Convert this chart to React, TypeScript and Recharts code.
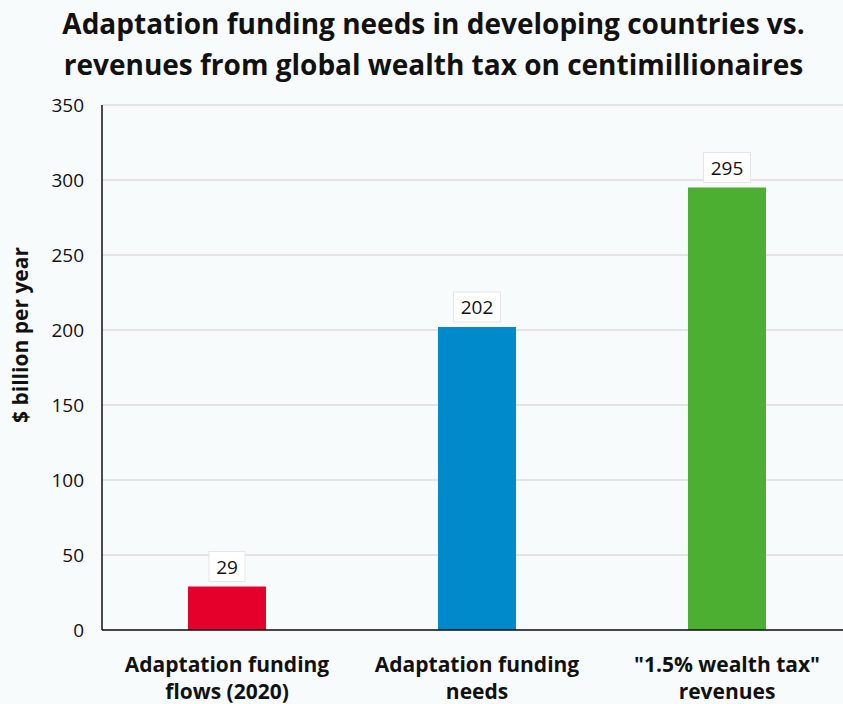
import React from "react";
import { Bar, BarChart, CartesianGrid, Cell, LabelList, XAxis, YAxis } from "recharts";

const categories = [
  ["Adaptation funding", "flows (2020)"],
  ["Adaptation funding", "needs"],
  ['"1.5% wealth tax"', "revenues"],
];
const values = [29, 202, 295];
const colors = ["#e4002b", "#0089cb", "#4caf31"];
const yTicks = [0, 50, 100, 150, 200, 250, 300, 350];

const data = categories.map((lines, i) => ({ key: `c${i}`, lines, value: values[i] }));

const FONT = "'Open Sans', 'Noto Sans', sans-serif";

function XTick({ x, y, payload }: any) {
  const lines: string[] = data[payload.index]?.lines ?? [];
  return (
    <text x={x} y={y + 34} textAnchor="middle" fontFamily={FONT} fontWeight={700} fontSize={21} fill="#111">
      {lines.map((l, i) => (
        <tspan key={i} x={x} dy={i === 0 ? 0 : 27}>
          {l}
        </tspan>
      ))}
    </text>
  );
}

function ValueLabel({ x, y, width, value }: any) {
  const s = String(value);
  const w = s.length * 11 + 14;
  const cx = x + width / 2;
  return (
    <g>
      <rect x={cx - w / 2} y={y - 35} width={w} height={30} fill="#fff" stroke="#e6e6e6" strokeWidth={1} />
      <text x={cx} y={y - 13} textAnchor="middle" fontFamily={FONT} fontSize={19} fill="#111">
        {s}
      </text>
    </g>
  );
}

function YLabel() {
  return (
    <text
      x={20}
      y={335}
      transform="rotate(-90 20 335)"
      textAnchor="middle"
      dominantBaseline="central"
      fontFamily={FONT}
      fontWeight={700}
      fontSize={21}
      fill="#111"
    >
      $ billion per year
    </text>
  );
}

export default function App() {
  return (
    <div
      style={{
        position: "fixed",
        left: 0,
        top: 0,
        width: 843,
        height: 704,
        overflow: "hidden",
        background: "#f8fbfb",
      }}
    >
      <div
        style={{
          position: "absolute",
          top: 3,
          left: 12,
          width: 843,
          textAlign: "center",
          fontFamily: FONT,
          fontWeight: 700,
          fontSize: 28,
          lineHeight: "41px",
          color: "#111",
          whiteSpace: "nowrap",
        }}
      >
        Adaptation funding needs in developing countries vs.
        <br />
        revenues from global wealth tax on centimillionaires
      </div>
      <div style={{ position: "absolute", left: 0, top: 0 }}>
        <BarChart width={852} height={704} data={data} margin={{ top: 105, right: 0, bottom: 0, left: 0 }}>
          <CartesianGrid vertical={false} stroke="#dcdcdc" strokeWidth={1.5} />
          <XAxis
            dataKey="key"
            height={74}
            tick={<XTick />}
            tickLine={false}
            axisLine={{ stroke: "#111", strokeWidth: 1.5 }}
            interval={0}
          />
          <YAxis
            width={102}
            domain={[0, 350]}
            ticks={yTicks}
            tickLine={false}
            tickSize={0}
            tickMargin={18}
            axisLine={{ stroke: "#111", strokeWidth: 1.5 }}
            tick={{ fontFamily: FONT, fontSize: 19, fill: "#111" }}
            label={<YLabel />}
          />
          <Bar dataKey="value" barSize={78} isAnimationActive={false}>
            {data.map((d, i) => (
              <Cell key={d.key} fill={colors[i]} />
            ))}
            <LabelList dataKey="value" content={<ValueLabel />} />
          </Bar>
        </BarChart>
      </div>
    </div>
  );
}
